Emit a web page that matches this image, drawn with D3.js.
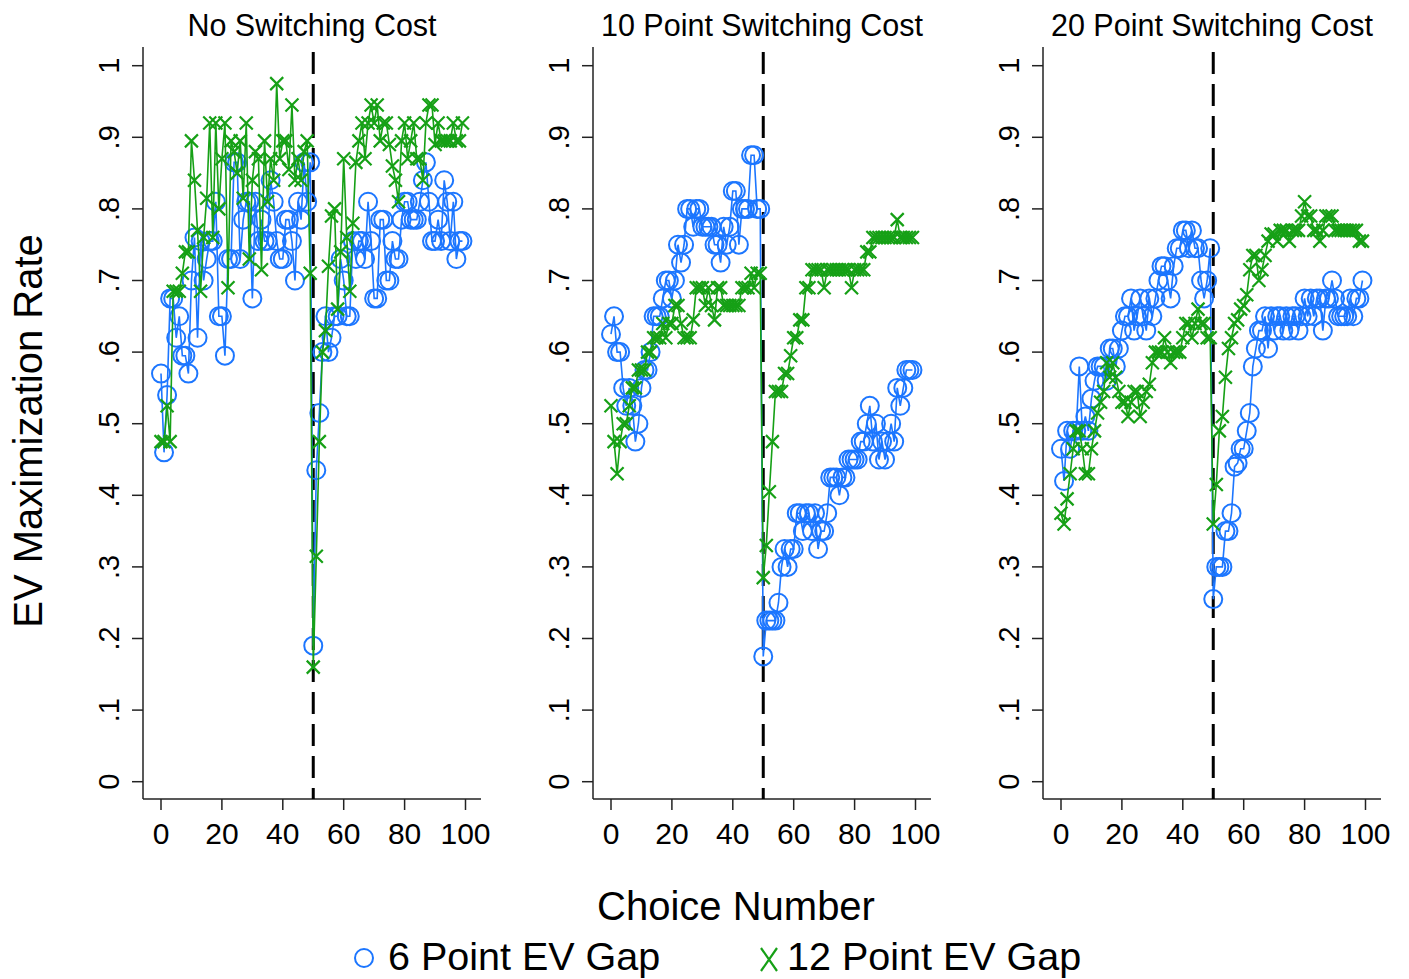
<html><head>
  <script src="https://d3js.org/d3.v7.min.js"></script>
  <style>
    body { margin: 0; background: #fff; }
    text { font-family: 'Liberation Sans', Arial, sans-serif; fill: #000; }
  </style>
</head>
<body>
  <script>
    // ---- data ----
    const panelTitles = ["No Switching Cost", "10 Point Switching Cost", "20 Point Switching Cost"]
    const seriesNames = ["6 Point EV Gap", "12 Point EV Gap"]
    const xTicks = [0, 20, 40, 60, 80, 100]
    const yTicks = [0, .1, .2, .3, .4, .5, .6, .7, .8, .9, 1]
    const yTickLabels = ["0", ".1", ".2", ".3", ".4", ".5", ".6", ".7", ".8", ".9", "1"]
    const switchPoint = 50

    // No switching cost
    const noCost6 = [
      .57, .46, .54, .675, .675, .62, .65, .595, .595, .57,
      .70, .76, .62, .755, .70, .73, .755, .755, .81, .65,
      .65, .595, .73, .73, .865, .865, .73, .785, .81, .81,
      .675, .81, .755, .785, .755, .755, .84, .81, .755, .73,
      .73, .785, .785, .755, .70, .81, .785, .865, .81, .865,
      .19, .435, .515, .60, .65, .60, .62, .65, .65, .73,
      .70, .65, .65, .755, .73, .755, .755, .73, .81, .755,
      .675, .675, .785, .785, .70, .70, .755, .73, .73, .785,
      .81, .81, .785, .785, .785, .81, .84, .865, .81, .755,
      .755, .785, .755, .84, .81, .755, .81, .73, .755, .755]
    const noCost12 = [
      .475, .475, .525, .475, .685, .685, .685, .71, .74, .74,
      .895, .84, .77, .685, .76, .815, .92, .76, .92, .80,
      .87, .92, .69, .895, .88, .85, .895, .815, .92, .73,
      .84, .88, .87, .715, .895, .81, .87, .84, .975, .87,
      .895, .895, .855, .945, .84, .87, .84, .88, .895, .71,
      .16, .315, .475, .60, .63, .72, .79, .80, .66, .74,
      .87, .76, .685, .78, .865, .895, .92, .87, .92, .945,
      .92, .945, .895, .92, .92, .89, .86, .84, .81, .895,
      .92, .87, .895, .92, .87, .87, .84, .92, .945, .945,
      .89, .92, .895, .895, .895, .895, .92, .895, .895, .92]

    // 10 point switching cost
    const cost10_6 = [
      .625, .65, .60, .60, .55, .525, .55, .525, .475, .50,
      .55, .575, .575, .60, .65, .65, .65, .675, .70, .70,
      .675, .70, .75, .725, .75, .80, .80, .775, .80, .80,
      .775, .775, .775, .775, .75, .75, .725, .775, .75, .775,
      .825, .825, .75, .80, .80, .80, .875, .875, .80, .80,
      .175, .225, .225, .225, .225, .25, .30, .325, .30, .325,
      .325, .375, .375, .35, .375, .375, .35, .375, .325, .35,
      .35, .375, .425, .425, .425, .40, .425, .425, .45, .45,
      .45, .45, .475, .475, .50, .525, .475, .50, .45, .475,
      .45, .475, .50, .475, .55, .525, .55, .575, .575, .575]
    const cost10_12 = [
      .525, .475, .43, .475, .50, .50, .525, .55, .55, .575,
      .575, .575, .60, .60, .62, .62, .62, .64, .62, .64,
      .64, .665, .665, .64, .62, .62, .62, .645, .69, .69,
      .69, .665, .69, .665, .645, .69, .69, .665, .665, .665,
      .665, .665, .665, .69, .69, .69, .71, .69, .71, .71,
      .285, .33, .405, .475, .545, .545, .545, .57, .57, .595,
      .62, .62, .645, .645, .69, .69, .715, .715, .715, .715,
      .69, .715, .715, .715, .715, .715, .715, .715, .715, .69,
      .715, .715, .715, .715, .74, .74, .76, .76, .76, .76,
      .76, .76, .76, .76, .785, .76, .76, .76, .76, .76]

    // 20 point switching cost
    const cost20_6 = [
      .465, .42, .49, .465, .49, .49, .58, .49, .51, .49,
      .535, .56, .58, .58, .58, .56, .605, .605, .58, .605,
      .63, .65, .65, .675, .63, .65, .675, .65, .63, .675,
      .65, .675, .70, .72, .72, .70, .675, .72, .745, .745,
      .77, .77, .745, .77, .745, .745, .70, .675, .70, .745,
      .255, .30, .30, .30, .35, .35, .375, .44, .445, .465,
      .465, .49, .515, .58, .605, .63, .63, .65, .605, .65,
      .63, .65, .65, .63, .65, .63, .65, .65, .63, .65,
      .675, .65, .675, .65, .675, .675, .63, .675, .675, .70,
      .675, .65, .65, .65, .65, .675, .65, .675, .675, .70]
    const cost20_12 = [
      .375, .36, .395, .43, .465, .49, .49, .465, .43, .43,
      .465, .49, .515, .53, .545, .585, .565, .585, .565, .545,
      .53, .53, .51, .53, .545, .545, .51, .53, .545, .555,
      .585, .60, .60, .60, .62, .60, .585, .60, .60, .60,
      .62, .64, .64, .62, .64, .66, .64, .64, .62, .62,
      .36, .415, .49, .51, .565, .605, .62, .64, .645, .66,
      .665, .68, .715, .735, .735, .70, .715, .735, .755, .765,
      .765, .755, .77, .77, .77, .755, .77, .77, .77, .79,
      .81, .79, .79, .77, .77, .755, .77, .79, .79, .79,
      .77, .77, .77, .77, .77, .77, .77, .77, .755, .755]

    const panels = [
      { title: panelTitles[0], six: noCost6, twelve: noCost12 },
      { title: panelTitles[1], six: cost10_6, twelve: cost10_12 },
      { title: panelTitles[2], six: cost20_6, twelve: cost20_12 }
    ]

    const blue = "#1c76ff"
    const green = "#16a016"
    const axisColor = "#222"

    const svg = d3.select("body").append("svg")
      .attr("width", 1409)
      .attr("height", 979)

    const y = d3.scaleLinear().domain([0, 1]).range([781.7, 65.7])

    panels.forEach((p, i) => {
      const off = i * 450
      const x = d3.scaleLinear().domain([0, 100]).range([161 + off, 465.5 + off])
      const g = svg.append("g")
      const left = 143 + off, right = 481 + off, bottom = 799, top = 47

      // title
      g.append("text")
        .attr("x", (left + right) / 2)
        .attr("y", 36)
        .attr("text-anchor", "middle")
        .style("font-size", "30.5px")
        .text(p.title)

      // y axis
      g.append("line").attr("x1", left).attr("x2", left).attr("y1", top).attr("y2", bottom)
        .attr("stroke", axisColor).attr("stroke-width", 1.5)
      yTicks.forEach((t, k) => {
        g.append("line").attr("x1", left - 11).attr("x2", left)
          .attr("y1", y(t)).attr("y2", y(t))
          .attr("stroke", axisColor).attr("stroke-width", 1.5)
        g.append("text")
          .attr("transform", `translate(${left - 24},${y(t)}) rotate(-90)`)
          .attr("text-anchor", "middle")
          .style("font-size", "29px")
          .text(yTickLabels[k])
      })

      // x axis
      g.append("line").attr("x1", left).attr("x2", right).attr("y1", bottom).attr("y2", bottom)
        .attr("stroke", axisColor).attr("stroke-width", 1.5)
      xTicks.forEach(t => {
        g.append("line").attr("x1", x(t)).attr("x2", x(t))
          .attr("y1", bottom).attr("y2", bottom + 11)
          .attr("stroke", axisColor).attr("stroke-width", 1.5)
        g.append("text")
          .attr("x", x(t)).attr("y", 844)
          .attr("text-anchor", "middle")
          .style("font-size", "30px")
          .text(t)
      })

      // switch line
      g.append("line")
        .attr("x1", x(switchPoint)).attr("x2", x(switchPoint))
        .attr("y1", 52).attr("y2", bottom)
        .attr("stroke", "#000").attr("stroke-width", 3)
        .attr("stroke-dasharray", "22,10")

      const line = d3.line().x((d, n) => x(n)).y(d => y(d))

      // 6 point series: connected hollow circles
      g.append("path").datum(p.six).attr("d", line)
        .attr("fill", "none").attr("stroke", blue).attr("stroke-width", 1.6)
      g.selectAll(".c").data(p.six).join("circle")
        .attr("cx", (d, n) => x(n)).attr("cy", d => y(d))
        .attr("r", 9).attr("fill", "none")
        .attr("stroke", blue).attr("stroke-width", 2)

      // 12 point series: connected x markers
      g.append("path").datum(p.twelve).attr("d", line)
        .attr("fill", "none").attr("stroke", green).attr("stroke-width", 1.6)
      g.selectAll(".x").data(p.twelve).join("path")
        .attr("d", (d, n) => {
          const cx = x(n), cy = y(d), s = 6.5
          return `M${cx - s},${cy - s}L${cx + s},${cy + s}M${cx - s},${cy + s}L${cx + s},${cy - s}`
        })
        .attr("stroke", green).attr("stroke-width", 2.2).attr("fill", "none")
    })

    // axis titles
    svg.append("text")
      .attr("transform", "translate(42,431) rotate(-90)")
      .attr("text-anchor", "middle")
      .style("font-size", "40px")
      .text("EV Maximization Rate")
    svg.append("text")
      .attr("x", 736).attr("y", 920)
      .attr("text-anchor", "middle")
      .style("font-size", "40px")
      .text("Choice Number")

    // legend
    svg.append("circle").attr("cx", 364).attr("cy", 958).attr("r", 9)
      .attr("fill", "none").attr("stroke", blue).attr("stroke-width", 2)
    svg.append("text").attr("x", 388).attr("y", 970)
      .style("font-size", "39.5px").text(seriesNames[0])
    svg.append("path")
      .attr("d", "M761,948L777,971M761,971L777,948")
      .attr("stroke", green).attr("stroke-width", 2.2).attr("fill", "none")
    svg.append("text").attr("x", 787).attr("y", 970)
      .style("font-size", "39.5px").text(seriesNames[1])
  </script>
</body></html>
